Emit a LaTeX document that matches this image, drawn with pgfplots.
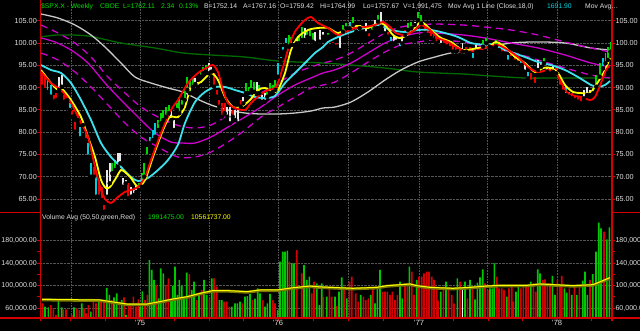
\documentclass[border=0pt]{standalone}
\usepackage{fontspec}
\setmainfont{Liberation Sans}
\usepackage{pgfplots}
\usepackage{pgfplotstable}
\pgfplotsset{compat=1.18}
\definecolor{axred}{RGB}{210,0,0}
\definecolor{gridc}{RGB}{85,85,85}
\definecolor{lbl}{RGB}{225,225,225}
\definecolor{hg}{RGB}{0,225,0}
\definecolor{hc}{RGB}{0,215,225}
\definecolor{cR}{RGB}{240,0,0}
\definecolor{cG}{RGB}{0,215,0}
\definecolor{cW}{RGB}{232,232,232}
\definecolor{cC}{RGB}{0,205,220}
\definecolor{lR}{RGB}{255,0,0}
\definecolor{lY}{RGB}{255,255,0}
\definecolor{lC}{RGB}{60,225,235}
\definecolor{lM}{RGB}{205,0,205}
\definecolor{lWh}{RGB}{200,200,200}
\definecolor{lGr}{RGB}{0,105,0}
\definecolor{vG}{RGB}{0,200,0}
\definecolor{vR}{RGB}{215,0,0}
\definecolor{olive2}{RGB}{120,120,0}

% candles: x lo hi
\pgfplotstableread{
x lo hi
42 90.20 93.57
44.7 89.46 92.45
53.7 86.84 88.34
56.3 87.22 88.72
64.3 86.84 88.34
67 87.22 88.34
72.3 83.47 84.98
75 80.11 82.35
77.7 82.73 84.30
83 81.61 82.73
85.7 78.24 79.81
93.7 70.01 72.25
99 65.52 69.27
101.7 64.78 67.77
104.3 62.15 63.66
128.3 65.16 68.53
214 90.20 93.21
216.7 87.96 89.46
219.3 85.72 87.22
222 83.47 86.48
224.7 84.24 86.48
232.7 83.47 84.98
240.7 85.72 87.22
333 99.56 100.30
336.3 99.18 99.94
356.3 102.55 103.67
363 102.55 103.31
369 101.05 102.19
388 101.42 102.55
405 101.81 102.93
424.7 102.19 103.67
428 101.81 103.67
431 101.10 102.80
433.5 100.68 102.93
436.3 99.94 101.81
443.8 99.56 101.13
446.3 99.18 100.68
449.7 98.82 99.94
453 98.06 100.30
456.3 98.06 99.18
459.7 97.32 98.82
466.3 98.06 99.18
469.7 97.70 99.18
502 97.70 99.18
511.3 96.58 98.06
514.7 95.81 96.94
518 95.46 96.58
531.3 91.33 93.21
534.7 90.59 92.45
556.3 93.21 94.33
559.7 90.20 92.45
563 89.08 90.59
572 87.60 88.72
575 87.22 88.34
578 86.84 87.96
581.3 86.48 87.96
}\candR
\pgfplotstableread{
x lo hi
47.5 89.02 91.71
50.7 87.96 90.59
69.7 84.98 86.55
80.3 78.63 81.23
88.3 74.50 77.50
91 70.01 73.02
96.3 65.52 70.01
150 77.50 78.98
152.7 78.24 80.49
155.3 78.98 81.99
278 92.45 95.46
280.7 96.20 96.94
283.3 98.06 99.18
286 99.56 101.05
349.7 103.31 104.79
391 99.94 101.42
399.7 98.82 99.94
473 96.20 97.70
489.7 99.18 99.94
508 95.81 97.32
521.3 95.07 96.20
528 92.09 93.57
566 88.34 90.20
569 87.96 89.08
603 94.33 96.58
}\candC
\pgfplotstableread{
x lo hi
59 89.46 92.45
61.7 90.20 92.83
107 65.52 71.51
109.7 68.53 73.02
117.7 72.25 75.26
120.3 73.02 75.26
123 67.77 69.65
125.7 68.53 69.27
131 65.52 67.77
133.7 65.90 67.02
136.3 66.58 67.92
171.3 82.73 84.98
174 80.49 82.73
195.3 90.81 92.16
198 90.20 91.33
208.7 93.21 95.46
211.3 93.57 94.69
227.3 83.47 85.72
230 81.99 85.72
235.3 82.73 84.98
238 81.99 85.72
243.3 86.48 87.96
256.7 88.72 91.33
262 86.84 88.34
264.7 86.84 88.72
294 99.56 100.30
296.7 99.94 101.05
304.7 100.68 103.31
315.3 99.94 102.55
319.7 100.30 102.93
323 101.42 102.55
339.7 98.44 101.42
359.7 103.31 104.05
366.3 102.19 104.43
374.7 103.31 105.17
381.3 103.67 107.03
384.7 102.19 104.05
393.7 99.94 101.81
396.3 100.30 101.42
402.3 99.94 101.05
414.7 104.05 104.79
441.3 99.56 101.42
462.5 98.06 99.94
476.3 98.06 99.56
493 98.82 99.94
499 98.44 100.30
504.7 97.70 98.82
524.7 93.57 95.46
538 93.95 96.20
541.3 94.69 95.81
547 93.57 94.69
549.7 93.21 94.33
553 93.57 95.07
584 87.60 89.46
587 88.34 90.20
590 88.34 89.46
}\candW
\pgfplotstableread{
x lo hi
112.3 70.77 73.02
115 71.51 73.76
139 67.02 68.53
141.7 67.77 70.77
144.3 70.01 73.02
147 74.50 76.74
158 80.49 82.73
160.7 81.99 84.24
163.3 82.73 84.98
166 83.47 85.72
168.7 84.24 86.10
176.7 84.98 86.48
179.3 84.24 87.96
182 85.72 87.22
184.7 87.22 90.20
187.3 89.46 92.45
190 88.72 91.71
192.7 90.20 92.45
200.7 92.45 93.95
203.3 93.21 94.69
206 93.57 95.07
246 88.72 90.97
248.7 88.72 90.20
251.3 89.46 91.71
254 89.02 91.26
259.3 88.72 90.59
267.3 87.96 89.08
270 88.72 90.97
272.7 89.02 90.59
275.3 89.46 91.71
288.7 99.18 101.81
291.3 99.56 101.42
299.3 99.94 101.81
302 100.68 103.67
307.3 101.42 102.93
310 101.05 102.93
312.7 100.30 102.19
328 101.42 102.19
343 102.55 104.05
346.3 103.31 104.43
353 104.05 105.91
372 102.55 104.05
378 104.79 106.29
408 102.93 104.43
411.3 103.31 104.79
418 105.17 107.03
421.3 104.43 106.29
479.7 98.06 99.18
483 99.18 100.68
486.3 99.94 101.05
496 99.18 100.68
544 95.46 96.58
593 88.72 89.85
596.3 90.20 92.83
599.7 92.45 95.46
605.5 95.46 97.70
608 96.20 99.18
610.5 98.06 100.30
}\candG

% volume: x v
\pgfplotstableread{
x v
45 62400
48.3 61200
58.3 75400
61.7 61200
74 61200
81.7 68300
90.7 53500
98.7 75400
106.7 95600
109.3 83100
114 79000
116.7 86100
121.7 74200
126 47600
140 62400
142.3 89600
149.3 145300
151.7 127600
154 109800
158.3 77200
160.7 130500
163.3 121600
170.7 74200
172.7 99100
175 133500
177.3 83100
179.3 109800
181.7 99100
184 77200
186.7 122800
191.7 92000
194 106800
199 83100
204 109800
206.7 83100
211.7 112700
219.3 74200
221.7 74200
231.7 62400
235 68300
237.3 68300
240 71300
245 80100
247.3 81300
250 84900
255 76600
257.7 95000
260 86100
265 62400
267.3 68300
270 84900
277.7 56400
280 142400
282.7 160100
285 160100
287.3 161900
291.7 139400
294 139400
304 136400
306.7 109800
309.3 115700
316.7 103900
319.3 65300
321.7 103900
326.7 80100
335 80100
339 89000
341.7 114500
346.7 77200
360.7 83100
370.7 83100
375 68300
377.3 95000
380 127600
400 106800
402.3 77200
409.3 133500
416.7 109800
440.7 89000
446 106800
457.3 112700
465 106800
470 109800
475 75400
477.3 105000
480 114500
482.7 128700
490 95000
492.3 95000
494.3 139400
506.7 80100
516 89000
518.3 97900
530.7 106800
537.7 128700
540 121600
552.3 116900
555 83100
564.3 95000
566.7 87300
571.7 83100
576.7 83100
582.7 108600
585 124600
587.3 83100
592.7 120400
596 160100
598.7 211700
601 201600
606.7 182100
609.3 203400
}\volG
\pgfplotstableread{
x v
42.7 68300
50.7 65300
53.3 59400
56 47600
63.3 57600
66 57600
68.3 43400
71.7 47600
76.7 59400
79.3 56400
84 59400
86 50500
88.3 65300
93.3 74200
96 68300
101 71300
104 74200
111.7 74200
119.3 71300
124 79000
128.3 65300
130.7 65300
133.3 80100
136 62400
138.3 75400
145 74200
147.3 83100
156 100900
165.7 100900
168.3 112700
189.3 120400
196.7 74200
201.7 92000
209.3 77200
214 112700
216.7 97900
224 71300
226.7 71300
229.3 62400
242.3 68300
252.3 74200
262.7 74200
272.7 74200
275 68300
289.3 142400
296.7 163100
301.7 121600
311.7 86100
314 106800
323.3 80100
329.3 95000
331.7 80100
336.7 63600
344 97900
349.3 106800
351.7 115700
355.7 86100
358.3 71300
363.3 80100
365.7 74200
368.3 77200
372.7 95000
382.3 89000
385 89000
387.3 89000
390 83100
392.3 89000
395 74200
397.3 83100
405 103900
407.3 100900
411.7 124600
414 83100
419 115700
421.7 115700
424 121600
426.7 124600
429 124600
431.7 115700
434 109800
436.7 95000
438.3 73000
443.3 92000
448.3 93200
451.7 83100
454 68300
460 106800
467.3 77200
472.3 95000
485 103900
487.7 92000
496.7 115700
499 95000
501.7 95000
504 92000
509 95000
511.7 100900
513.3 71300
520.7 95000
523.3 100900
526 100900
528.3 97900
533.3 103900
535.7 89000
542.7 109800
545 111000
547.3 103900
550 103900
557.3 109800
560 100900
561.7 116900
569.3 95000
574.3 100900
579.3 97900
590 109800
604 195700
}\volR

\pgfplotsset{
  tl/.style={font=\fontsize{7.3}{8}\selectfont, color=lbl},
  base/.style={scale only axis, anchor=south west, xmin=40, xmax=612,
    axis line style={draw=none}, tick align=outside, major tick length=2.5bp, minor tick length=2.5bp,
    tick style={draw=axred, line width=0.8bp}},
  ma/.style={smooth, tension=0.45, line width=1.8bp, mark=none},
}
\tikzset{hd/.style={anchor=base west, inner sep=0, font=\fontsize{6.8}{9}\selectfont}}

\begin{document}
\begin{tikzpicture}
\fill[black] (0bp,0bp) rectangle (640bp,331bp);

% ---------- price panel ----------
\begin{axis}[base, at={(40bp,119bp)}, width=572bp, height=212bp,
  ymin=62.09, ymax=109.66, xtick=\empty,
  ytick={65,70,...,105}, ytick pos=left, ymajorgrids,
  major grid style={densely dotted, gridc, line width=0.6bp},
  yticklabel style={tl, inner sep=0.5bp, /pgf/number format/.cd, fixed, fixed zerofill, precision=2, assume math mode=true}]
\draw[densely dotted, gridc, line width=0.6bp] (axis cs:71,62.09) -- (axis cs:71,109.66);
\draw[densely dotted, gridc, line width=0.6bp] (axis cs:140,62.09) -- (axis cs:140,109.66);
\draw[densely dotted, gridc, line width=0.6bp] (axis cs:209,62.09) -- (axis cs:209,109.66);
\draw[densely dotted, gridc, line width=0.6bp] (axis cs:278,62.09) -- (axis cs:278,109.66);
\draw[densely dotted, gridc, line width=0.6bp] (axis cs:348,62.09) -- (axis cs:348,109.66);
\draw[densely dotted, gridc, line width=0.6bp] (axis cs:419,62.09) -- (axis cs:419,109.66);
\draw[densely dotted, gridc, line width=0.6bp] (axis cs:487,62.09) -- (axis cs:487,109.66);
\draw[densely dotted, gridc, line width=0.6bp] (axis cs:557,62.09) -- (axis cs:557,109.66);

% long averages
\addplot[smooth, lGr, line width=1.3bp] coordinates {
(41,101.36) (58,101.81) (88,101.58) (121,100.01) (155,98.89) (183,97.77) (211,97.32) (245,96.87) (278,95.97) (323,95.52) (351,95.07) (385,94.40) (418,93.50) (463,93.05) (491,92.61) (525,92.16) (558,92.16) (610,92.16)};
\addplot[smooth, lWh, line width=1.3bp] coordinates {
(41,106.52) (58,105.62) (75,104.05) (91,101.81) (105,99.11) (121,95.52) (135,92.38) (151,91.03) (168,89.91) (183,89.02) (195,87.67) (211,86.10) (228,84.98) (245,84.30) (261,84.08) (278,84.08) (295,84.30) (311,84.75) (323,85.42) (335,85.65) (351,86.77) (368,89.02) (385,91.71) (401,93.95) (418,95.75) (435,96.87) (451,97.77) (463,97.77) (485,98.89) (511,100.01) (538,100.24) (565,100.01) (591,98.89) (610,98.44)};
% magenta envelope
\addplot[smooth, lM, line width=1.3bp] coordinates {
(41,101.13) (55,100.24) (71,98.44) (88,95.52) (105,91.03) (121,87.22) (138,83.41) (155,79.81) (171,77.79) (183,77.57) (195,77.57) (211,78.92) (228,81.16) (245,83.41) (261,85.65) (278,88.34) (295,90.59) (311,92.16) (323,93.28) (335,94.00) (351,95.52) (368,97.77) (385,100.01) (401,101.36) (418,102.25) (435,102.25) (463,101.81) (485,101.13) (511,100.01) (538,98.89) (565,97.32) (591,95.52) (610,94.62)};
\addplot[smooth, lM, line width=1.3bp, dash pattern=on 7bp off 5bp] coordinates {
(41,104.05) (58,102.25) (75,100.01) (91,96.87) (108,92.38) (125,88.79) (141,85.65) (158,83.41) (178,81.5) (195,80.94) (211,81.61) (228,83.85) (245,86.55) (261,88.79) (278,91.03) (295,93.28) (311,94.62) (323,95.52) (335,96.20) (351,97.77) (368,100.01) (385,102.25) (401,103.60) (418,104.05) (435,104.27) (463,104.05) (485,103.60) (511,102.93) (538,101.81) (565,100.24) (591,98.89) (610,97.99)};
\addplot[smooth, lM, line width=1.3bp, dash pattern=on 7bp off 5bp] coordinates {
(41,97.77) (58,96.20) (75,93.50) (91,90.14) (108,86.10) (125,82.06) (141,78.92) (158,76.67) (178,74.43) (195,74.43) (211,75.55) (228,77.79) (245,80.49) (261,83.41) (278,85.65) (295,87.89) (311,89.91) (323,90.59) (335,91.26) (351,93.28) (368,95.75) (385,97.99) (401,99.56) (418,100.24) (435,100.68) (463,100.24) (485,99.11) (511,97.99) (538,96.20) (565,94.40) (591,92.83) (610,92.16)};

% candles
\addplot[only marks, mark=none, error bars/.cd, y dir=plus, y explicit, error mark=none, error bar style={line width=1.7bp, draw=cR}] table[x=x, y=lo, y error expr=\thisrow{hi}-\thisrow{lo}] {\candR};
\addplot[only marks, mark=none, error bars/.cd, y dir=plus, y explicit, error mark=none, error bar style={line width=1.7bp, draw=cC}] table[x=x, y=lo, y error expr=\thisrow{hi}-\thisrow{lo}] {\candC};
\addplot[only marks, mark=none, error bars/.cd, y dir=plus, y explicit, error mark=none, error bar style={line width=1.7bp, draw=cW}] table[x=x, y=lo, y error expr=\thisrow{hi}-\thisrow{lo}] {\candW};
\addplot[only marks, mark=none, error bars/.cd, y dir=plus, y explicit, error mark=none, error bar style={line width=1.7bp, draw=cG}] table[x=x, y=lo, y error expr=\thisrow{hi}-\thisrow{lo}] {\candG};

% short averages
\addplot[ma, lC] coordinates {
(41,95.07) (51,93.95) (61,93.28) (71,91.03) (81,87.22) (91,82.73) (101,77.57) (111,74.43) (121,72.19) (131,69.94) (138,69.04) (148,69.72) (158,71.51) (168,73.76) (178,77.2) (185,82.06) (195,86.77) (205,89.02) (215,90.14) (225,90.14) (235,89.46) (245,88.79) (255,87.89) (265,87.67) (275,88.12) (285,91.03) (295,93.28) (305,95.52) (315,97.77) (323,99.11) (328,100.24) (338,101.36) (351,102.48) (365,103.38) (378,104.05) (391,102.93) (405,102.48) (418,102.93) (431,102.93) (445,102.25) (458,101.36) (471,100.01) (485,99.56) (498,99.11) (511,97.99) (525,96.87) (538,95.75) (551,95.07) (565,93.95) (578,92.38) (591,90.59) (598,90.14) (605,90.59) (610,91.48)};
\addplot[ma, lY] coordinates {
(41,93.95) (51,91.03) (58,89.46) (63,89.46) (71,87.22) (81,83.41) (88,78.92) (95,74.43) (101,69.27) (106,67.47) (110,67.70) (116,69.72) (121,71.51) (126,70.84) (131,69.72) (138,67.70) (145,69.27) (153,74.43) (163,80.49) (170,83.41) (178,83.41) (185,85.65) (191,90.14) (201,91.26) (211,93.28) (218,91.71) (225,87.89) (233,85.65) (241,85.65) (250,87.22) (258,89.46) (265,89.91) (273,89.02) (278,89.46) (285,93.28) (291,98.44) (298,101.36) (308,102.93) (318,103.38) (328,103.38) (338,102.25) (348,103.38) (358,103.83) (368,103.38) (378,104.50) (385,104.05) (393,101.81) (401,101.13) (411,102.48) (421,104.72) (431,102.93) (441,101.13) (451,100.24) (463,98.44) (478,98.89) (488,99.11) (496,100.24) (505,99.11) (515,96.87) (525,95.52) (535,93.50) (543,94.40) (551,94.40) (558,93.28) (565,90.59) (573,89.02) (581,88.79) (590,88.79) (598,91.26) (605,93.95) (610,96.65)};
\addplot[ma, lR] coordinates {
(41,93.57) (51,91.03) (61,89.46) (71,86.55) (81,82.06) (88,78.92) (95,72.19) (101,67.02) (106,64.78) (111,64.11) (118,65.45) (125,66.58) (131,67.02) (138,67.70) (145,69.94) (151,73.76) (161,79.81) (171,84.98) (178,87.22) (188,91.03) (198,93.28) (208,94.62) (213,95.07) (218,93.50) (223,89.46) (228,86.55) (235,85.42) (245,84.98) (251,86.55) (260,88.34) (268,89.46) (276,90.14) (283,94.62) (290,100.01) (296,102.93) (305,105.17) (311,105.85) (318,104.50) (328,103.38) (338,101.81) (345,102.48) (355,103.38) (365,103.60) (375,104.05) (383,104.72) (390,103.60) (396,102.25) (405,101.81) (415,102.93) (421,104.05) (430,102.93) (438,101.13) (448,100.24) (458,98.89) (468,97.99) (478,98.44) (488,99.11) (498,99.56) (508,98.44) (518,96.87) (528,94.62) (538,93.50) (548,93.95) (555,93.50) (560,91.71) (565,89.46) (571,88.34) (581,87.89) (590,87.22) (595,87.89) (601,91.03) (606,93.95) (610,95.07)};
\end{axis}
% right labels, price
\begin{axis}[base, at={(40bp,119bp)}, width=572bp, height=212bp,
  ymin=62.09, ymax=109.66, xtick=\empty,
  ytick={65,70,...,105}, ytick pos=right, yticklabel pos=right,
  yticklabel style={tl, inner sep=0.8bp, /pgf/number format/.cd, fixed, fixed zerofill, precision=2, assume math mode=true}]
\end{axis}

% ---------- volume panel ----------
\begin{axis}[base, at={(40bp,13bp)}, width=572bp, height=105bp,
  ymin=42200, ymax=228900, scaled y ticks=false,
  ytick={60000,100000,140000,180000}, minor y tick num=1, ytick pos=left, ymajorgrids,
  major grid style={densely dotted, gridc, line width=0.6bp},
  xtick={70.5,105.3,140,174.5,209,243.5,278,313,348.5,383.5,419,453.5,488,522.5,557,591.5},
  xticklabels={,,'75,,,,'76,,,,'77,,,,'78,}, xtick pos=bottom,
  xticklabel style={tl, font=\fontsize{7.6}{8}\selectfont, inner sep=1bp, yshift=1.5bp},
  yticklabel style={tl, font=\fontsize{7.1}{8}\selectfont, inner sep=0.5bp, /pgf/number format/.cd, fixed, fixed zerofill, precision=2, 1000 sep={,}, assume math mode=true}]
\draw[densely dotted, gridc, line width=0.6bp] (axis cs:71,42200) -- (axis cs:71,228900);
\draw[densely dotted, gridc, line width=0.6bp] (axis cs:140,42200) -- (axis cs:140,228900);
\draw[densely dotted, gridc, line width=0.6bp] (axis cs:209,42200) -- (axis cs:209,228900);
\draw[densely dotted, gridc, line width=0.6bp] (axis cs:278,42200) -- (axis cs:278,228900);
\draw[densely dotted, gridc, line width=0.6bp] (axis cs:348,42200) -- (axis cs:348,228900);
\draw[densely dotted, gridc, line width=0.6bp] (axis cs:419,42200) -- (axis cs:419,228900);
\draw[densely dotted, gridc, line width=0.6bp] (axis cs:487,42200) -- (axis cs:487,228900);
\draw[densely dotted, gridc, line width=0.6bp] (axis cs:557,42200) -- (axis cs:557,228900);
\addplot[ybar, bar width=1.6bp, bar shift=0bp, fill=vG, draw=none] table[x=x, y=v] {\volG};
\addplot[ybar, bar width=1.6bp, bar shift=0bp, fill=vR, draw=none] table[x=x, y=v] {\volR};
\addplot[ybar, bar width=1.6bp, bar shift=0bp, fill=white, draw=none] coordinates {(462.3,97900)};
\addplot[olive2, line width=3bp, mark=none] coordinates {
(42,74400) (100,73200) (127,66000) (147,66000) (160,70300) (173,75000) (187,79000) (200,85000) (213,90000) (227,90000) (247,88000) (260,91000) (277,91000) (293,95000) (310,98000) (320,96500) (353,94000) (377,95700) (387,98700) (410,101700) (417,98700) (430,95700) (453,94000) (470,95700) (487,98100) (500,99300) (527,99300) (540,101700) (553,100500) (573,98700) (593,100500) (602,107000) (610,113000)};
\addplot[lY, line width=1bp, mark=none] coordinates {
(42,75400) (100,74200) (127,67000) (147,67000) (160,71300) (173,76000) (187,80000) (200,86000) (213,91000) (227,91000) (247,89000) (260,92000) (277,92000) (293,96000) (310,99000) (320,97500) (353,95000) (377,96700) (387,99700) (410,102700) (417,99700) (430,96700) (453,95000) (470,96700) (487,99100) (500,100300) (527,100300) (540,102700) (553,101500) (573,99700) (593,101500) (602,108000) (610,114000)};
\end{axis}
\begin{axis}[base, at={(40bp,13bp)}, width=572bp, height=105bp,
  ymin=42200, ymax=228900, scaled y ticks=false, xtick=\empty,
  ytick={60000,100000,140000,180000}, minor y tick num=1, ytick pos=right, yticklabel pos=right,
  yticklabel style={tl, font=\fontsize{7.1}{8}\selectfont, inner sep=0.8bp, /pgf/number format/.cd, fixed, fixed zerofill, precision=2, 1000 sep={,}, assume math mode=true}]
\end{axis}

% frame lines
\draw[axred, line width=1.3bp] (40.5bp,10bp) -- (40.5bp,331bp);
\draw[axred, line width=1.3bp] (612bp,10bp) -- (612bp,331bp);
\draw[axred, line width=1.3bp] (0bp,13bp) -- (640bp,13bp);
\draw[axred, line width=1.3bp] (0bp,118.5bp) -- (40.5bp,118.5bp);
\draw[axred, line width=1.3bp] (612bp,118.5bp) -- (640bp,118.5bp);

% headers
\node[hd, text=hg] at (41bp,322.5bp) {\$SPX.X - Weekly};
\node[hd, text=hg] at (100bp,322.5bp) {CBOE};
\node[hd, text=hg] at (123bp,322.5bp) {L=1762.11};
\node[hd, text=hg] at (161bp,322.5bp) {2.34};
\node[hd, text=hg] at (179bp,322.5bp) {0.13\%};
\node[hd, text=lbl] at (204bp,322.5bp) {B=1752.14};
\node[hd, text=lbl] at (243bp,322.5bp) {A=1767.16};
\node[hd, text=lbl] at (280bp,322.5bp) {O=1759.42};
\node[hd, text=lbl] at (320bp,322.5bp) {Hi=1764.99};
\node[hd, text=lbl] at (363bp,322.5bp) {Lo=1757.67};
\node[hd, text=lbl] at (403bp,322.5bp) {V=1,991,475};
\node[hd, text=lbl] at (448bp,322.5bp) {Mov Avg 1 Line (Close,18,0)};
\node[hd, text=hc] at (547bp,322.5bp) {1691.90};
\node[hd, text=lbl] at (585bp,322.5bp) {Mov Avg\ldots};
\node[hd, text=lbl] at (42bp,111.5bp) {Volume Avg (50,50,green,Red)};
\node[hd, text=hg] at (148bp,111.5bp) {1991475.00};
\node[hd, text=lY] at (191bp,111.5bp) {10561737.00};

\pgfresetboundingbox
\useasboundingbox (0bp,0bp) rectangle (640bp,331bp);
\end{tikzpicture}
\end{document}
